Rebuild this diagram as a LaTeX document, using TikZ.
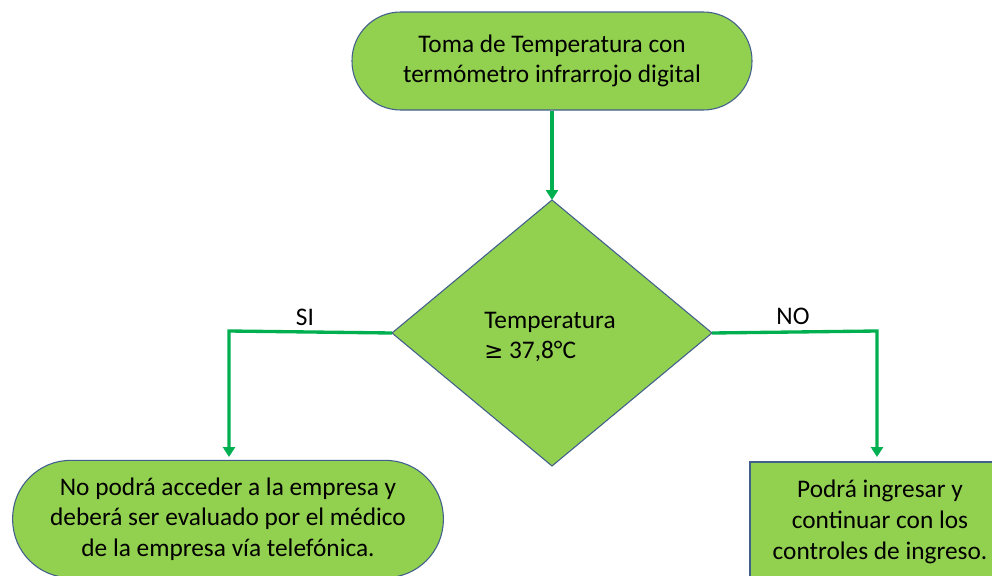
\documentclass[tikz,border=0pt]{standalone}
\usepackage{fontspec}
\setmainfont{Carlito}
\newfontfamily\symfont{DejaVu Sans}
\usetikzlibrary{shapes.geometric,arrows.meta}

\begin{document}
\begin{tikzpicture}[x=0.75pt,y=-0.75pt,
  every node/.style={font=\fontsize{19}{23}\selectfont},
  terminal/.style={draw=lineColor,line width=0.8pt,fill=boxColor,rounded corners=36.5pt,
    minimum width=300pt,minimum height=73.5pt,align=center,inner sep=0pt},
  process/.style={draw=lineColor,line width=0.8pt,fill=boxColor,
    minimum width=195pt,minimum height=90pt,align=center,inner sep=0pt},
  flow/.style={draw=arrowColor,line width=2.5pt,-{Triangle[width=9pt,length=7.5pt]}},
  tag/.style={inner sep=0pt}]
\definecolor{boxColor}{RGB}{146,208,80}
\definecolor{lineColor}{RGB}{65,95,140}
\definecolor{arrowColor}{RGB}{0,176,80}
\clip (0,0) rectangle (992,575);

\node[terminal] (toma) at (552,61) {Toma de Temperatura con\\termómetro infrarrojo digital};

% decision
\path[draw=lineColor,line width=0.8pt,fill=boxColor] (552,200) -- (712,333) -- (552,466) -- (392,333) -- cycle;
\coordinate (dtop) at (552,200);
\coordinate (dleft) at (392,333);
\coordinate (dright) at (712,333);
\node[tag,align=left] (temp) at (550,337) {Temperatura\\{\symfont\fontsize{17}{23}\selectfont≥} 37,8°C};

\node[terminal,minimum width=323pt,minimum height=88pt,rounded corners=43.5pt] (noacc) at (228,519) {No podrá acceder a la empresa y\\deberá ser evaluado por el médico\\de la empresa vía telefónica.};
\node[process] (podra) at (880,522) {Podrá ingresar y\\continuar con los\\controles de ingreso.};

% connectors
\draw[flow] (toma.south) -- (dtop);
\draw[flow] (dleft) -- (229,331) -- (229,457);
\draw[flow] (dright) -- (877,331) -- (877,457);

\node[tag] (si) at (305,317) {SI};
\node[tag] (no) at (793,316) {NO};
\end{tikzpicture}
\end{document}
